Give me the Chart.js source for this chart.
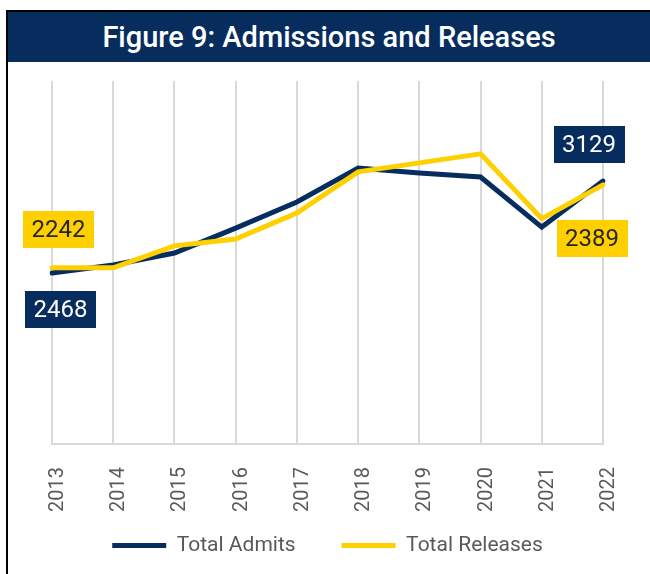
<!DOCTYPE html>
<html>
<head>
<meta charset="utf-8">
<script src="https://cdn.jsdelivr.net/npm/chart.js@4.4.0/dist/chart.umd.min.js"></script>
<style>
  html, body { margin: 0; padding: 0; background: #fff; }
  #wrap { position: relative; width: 650px; height: 574px; overflow: hidden; }
  #frame { position: absolute; left: 6px; top: 10px; width: 700px; height: 600px;
           border-left: 2px solid #000; border-top: 2px solid #000; }
  #banner { position: absolute; left: 8px; top: 12px; width: 642px; height: 50px;
            background: #072d5e; color: #fff; font: 500 29px Roboto, sans-serif;
            text-align: center; line-height: 50px; z-index: 2; }
  canvas { position: absolute; left: 0; top: 0; }
</style>
</head>
<body>
<div id="wrap">
  <div id="frame"></div>
  <div id="banner">Figure 9: Admissions and Releases</div>
  <canvas id="chart" width="650" height="574"></canvas>
</div>
<script>
// values (each series on its own hidden axis)
var years = ['2013', '2014', '2015', '2016', '2017', '2018', '2019', '2020', '2021', '2022'];
var totalAdmits = [2468, 2525, 2612, 2791, 2978, 3222, 3186, 3158, 2798, 3129];
var totalReleases = [2242, 2242, 2281, 2293, 2339, 2412, 2428, 2444, 2329, 2389];

var navy = '#072d5e';
var yellow = '#ffd000';

// boxed value labels next to the first and last points
var boxLabels = {
  id: 'boxLabels',
  afterDatasetsDraw: function (chart, args, opts) {
    var ctx = chart.ctx;
    opts.items.forEach(function (it) {
      var ds = chart.data.datasets[it.dataset];
      var pt = chart.getDatasetMeta(it.dataset).data[it.index];
      var cx = pt.x + it.dx, cy = pt.y + it.dy;
      ctx.save();
      ctx.fillStyle = it.bg;
      ctx.fillRect(Math.round(cx - opts.w / 2), Math.round(cy - opts.h / 2), opts.w, opts.h);
      ctx.font = opts.font;
      ctx.fillStyle = it.color;
      ctx.textAlign = 'center';
      ctx.textBaseline = 'middle';
      ctx.fillText(String(ds.data[it.index]), cx, cy + 1);
      ctx.restore();
    });
  }
};

var ctx = document.getElementById('chart').getContext('2d');
var myChart = new Chart(ctx, {
  type: 'line',
  data: {
    labels: years,
    datasets: [{
      label: 'Total Admits',
      data: totalAdmits,
      yAxisID: 'y',
      borderColor: navy,
      backgroundColor: navy,
      borderWidth: 5,
      borderCapStyle: 'round',
      pointRadius: 0,
      tension: 0,
      order: 1
    }, {
      label: 'Total Releases',
      data: totalReleases,
      yAxisID: 'y2',
      borderColor: yellow,
      backgroundColor: yellow,
      borderWidth: 5,
      borderCapStyle: 'round',
      pointRadius: 0,
      tension: 0,
      order: 0
    }]
  },
  options: {
    responsive: false,
    animation: false,
    layout: {
      padding: { left: 52, right: 47, top: 81, bottom: 8 }
    },
    plugins: {
      tooltip: { enabled: false },
      legend: {
        position: 'bottom',
        labels: {
          usePointStyle: true,
          pointStyle: 'line',
          pointStyleWidth: 54,
          padding: 46,
          color: '#595959',
          font: { family: 'Roboto', size: 21 },
          sort: function (a, b) { return a.datasetIndex - b.datasetIndex; }
        }
      },
      boxLabels: {
        w: 71,
        h: 37,
        font: '24px Roboto',
        items: [
          { dataset: 0, index: 0, dx: 8.5, dy: 36.5, bg: navy, color: '#fff' },
          { dataset: 1, index: 0, dx: 6.5, dy: -38, bg: yellow, color: '#262626' },
          { dataset: 0, index: 9, dx: -14, dy: -36.5, bg: navy, color: '#fff' },
          { dataset: 1, index: 9, dx: -11, dy: 54, bg: yellow, color: '#262626' }
        ]
      }
    },
    scales: {
      x: {
        offset: false,
        grid: { color: '#d9d9d9', lineWidth: 2, drawTicks: false },
        border: { color: '#d9d9d9', width: 2 },
        ticks: {
          color: '#595959',
          font: { family: 'Roboto', size: 20 },
          minRotation: 90,
          maxRotation: 90,
          padding: 23,
          labelOffset: 6,
          autoSkip: false
        },
        // squeeze the axis box so the legend sits close, but keep labels unclipped
        afterFit: function (axis) {
          axis.height = 45;
          axis._computeLabelArea = function () { return null; };
        }
      },
      y: { display: false, min: 1239, max: 3848 },
      y2: { display: false, position: 'right', min: 1930, max: 2573 }
    }
  },
  plugins: [boxLabels]
});
</script>
</body>
</html>
